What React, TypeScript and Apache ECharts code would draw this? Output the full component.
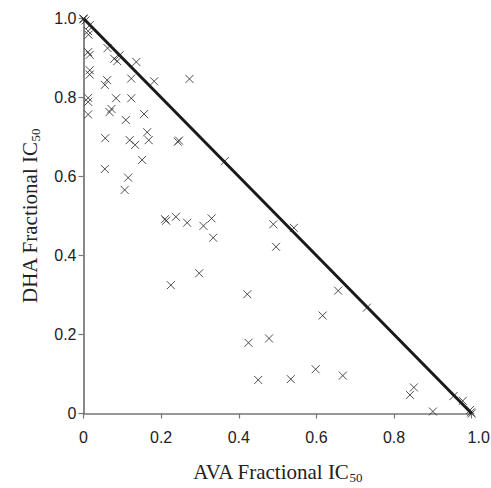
import React, { useEffect, useRef } from "react";
import * as echarts from "echarts";

// AVA fractional IC50 (x) and DHA fractional IC50 (y), paired by index
const avaFractional = [
  0.0, 0.0, 0.005, 0.016, 0.012, 0.013, 0.016, 0.012, 0.016, 0.016, 0.012, 0.012, 0.012,
  0.062, 0.079, 0.087, 0.093, 0.136, 0.061, 0.055, 0.123, 0.182, 0.084, 0.123,
  0.072, 0.067, 0.109, 0.156, 0.164, 0.168, 0.119, 0.133, 0.056, 0.243, 0.246,
  0.151, 0.055, 0.115, 0.106, 0.273, 0.364, 0.210, 0.213, 0.238, 0.267, 0.309,
  0.330, 0.334, 0.298, 0.225, 0.422, 0.489, 0.542, 0.496, 0.656, 0.730, 0.616,
  0.425, 0.478, 0.450, 0.534, 0.598, 0.668, 0.851, 0.841, 0.900, 0.953, 0.977,
  0.996, 1.0, 0.998,
];
const dhaFractional = [
  1.0, 0.998, 0.995, 0.983, 0.968, 0.959, 0.908, 0.915, 0.869, 0.858, 0.799, 0.789, 0.757,
  0.925, 0.898, 0.892, 0.907, 0.890, 0.844, 0.832, 0.848, 0.841, 0.798, 0.798,
  0.771, 0.763, 0.743, 0.758, 0.712, 0.692, 0.692, 0.680, 0.697, 0.688, 0.691,
  0.642, 0.619, 0.597, 0.566, 0.847, 0.639, 0.492, 0.488, 0.498, 0.483, 0.475,
  0.494, 0.445, 0.355, 0.325, 0.302, 0.479, 0.470, 0.422, 0.311, 0.268, 0.248,
  0.179, 0.190, 0.085, 0.087, 0.112, 0.096, 0.066, 0.047, 0.005, 0.044, 0.032,
  0.009, 0.0, 0.003,
];
// Line of additivity
const additivityLine = [
  [0, 1],
  [1, 0],
];
const tickValues = [0, 0.2, 0.4, 0.6, 0.8, 1.0];
const xAxisTitle = "AVA Fractional IC";
const yAxisTitle = "DHA Fractional IC";
const subscript = "50";

const fmt = (v: number) => (v === 0 ? "0" : v.toFixed(1));

export default function App() {
  const ref = useRef<HTMLDivElement>(null);
  useEffect(() => {
    if (!ref.current) return;
    const chart = echarts.init(ref.current, null, { renderer: "svg" });
    const points = avaFractional.map((x, i) => [x, dhaFractional[i]]);
    const titleRich = {
      main: { fontFamily: "Liberation Serif", fontSize: 21, color: "#222" },
      sub: {
        fontFamily: "Liberation Serif",
        fontSize: 13,
        color: "#222",
        padding: [10, 0, 0, 0],
      },
    };
    chart.setOption({
      animation: false,
      backgroundColor: "#fff",
      grid: {
        left: 83.5,
        right: 19.3,
        top: 18.5,
        bottom: 74.5,
        containLabel: false,
        outerBoundsMode: "none",
      },
      xAxis: {
        type: "value",
        min: tickValues[0],
        max: tickValues[tickValues.length - 1],
        interval: 0.2,
        name: `{main|${xAxisTitle}}{sub|${subscript}}`,
        nameLocation: "middle",
        nameGap: 47,
        nameTextStyle: { rich: titleRich },
        axisLine: { show: true, lineStyle: { color: "#777", width: 1.5 } },
        axisTick: { show: true, length: 5, inside: false, lineStyle: { color: "#777", width: 1.2 } },
        axisLabel: {
          formatter: (v: number) => (v === 1 ? `{last|${fmt(v)}}` : fmt(v)),
          fontFamily: "Liberation Sans",
          fontSize: 16,
          color: "#222",
          margin: 16,
          rich: { last: { fontFamily: "Liberation Sans", fontSize: 16, color: "#222", padding: [0, 0, 0, 14] } },
        },
        splitLine: { show: false },
      },
      yAxis: {
        type: "value",
        min: tickValues[0],
        max: tickValues[tickValues.length - 1],
        interval: 0.2,
        name: `{main|${yAxisTitle}}{sub|${subscript}}`,
        nameLocation: "middle",
        nameRotate: 90,
        nameGap: 42,
        nameTextStyle: { rich: titleRich },
        axisLine: { show: true, lineStyle: { color: "#888", width: 2 } },
        axisTick: { show: true, length: 5, inside: false, lineStyle: { color: "#777", width: 1.2 } },
        axisLabel: {
          formatter: fmt,
          fontFamily: "Liberation Sans",
          fontSize: 16,
          color: "#222",
          margin: 7,
        },
        splitLine: { show: false },
      },
      series: [
        {
          type: "scatter",
          data: points,
          symbol: "path://M0,0L10,10M10,0L0,10",
          symbolSize: 8,
          itemStyle: { color: "none", borderColor: "#222", borderWidth: 1 },
          z: 3,
        },
        {
          type: "line",
          data: additivityLine,
          showSymbol: false,
          symbol: "none",
          lineStyle: { color: "#1a1a1a", width: 3 },
          z: 2,
        },
      ],
    });
    return () => chart.dispose();
  }, []);
  return (
    <div
      ref={ref}
      style={{ position: "absolute", left: 0, top: 0, width: 491, height: 488 }}
    />
  );
}
